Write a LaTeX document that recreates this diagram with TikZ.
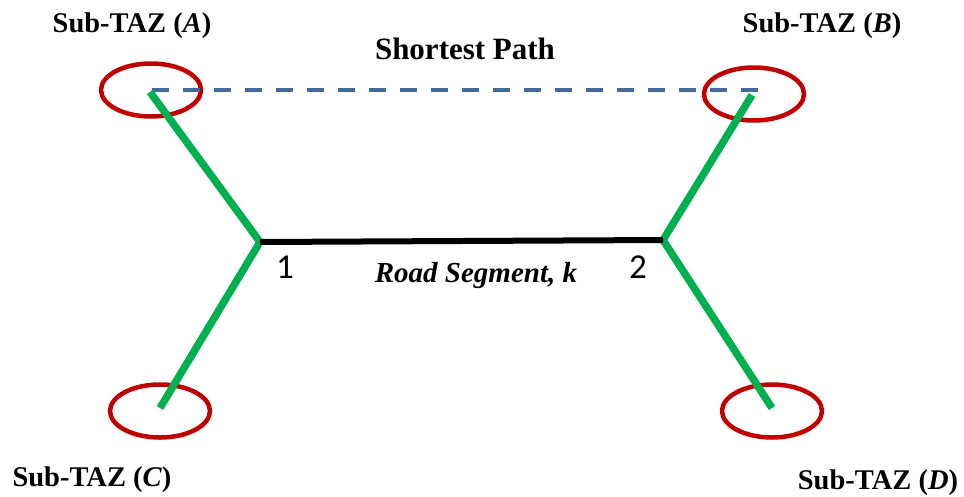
\documentclass[tikz,border=0pt]{standalone}
\usepackage{fontspec}
\setmainfont{Liberation Serif}
\newfontfamily\digitfont{Carlito}
\usetikzlibrary{shapes.geometric}
\definecolor{zonered}{RGB}{192,0,0}
\definecolor{linkgreen}{RGB}{0,176,80}
\definecolor{pathblue}{RGB}{68,106,156}
\tikzset{
  zone/.style={draw=zonered, line width=4.5pt, ellipse, inner sep=0pt, minimum width=100pt, minimum height=53pt},
  link/.style={draw=linkgreen, line width=7.5pt},
  road/.style={draw=black, line width=6pt},
  shortest/.style={draw=pathblue, line width=3.5pt, dash pattern=on 17pt off 14pt},
  lbl/.style={font=\fontsize{28.5}{30}\selectfont\bfseries, anchor=base, inner sep=0pt},
  num/.style={font=\fontsize{35}{36}\digitfont, inner sep=0pt}
}
\begin{document}
\begin{tikzpicture}[x=1pt,y=-1pt]
\useasboundingbox (0,0) rectangle (964,496);
% zones
\node[zone] (A) at (151,90) {};
\node[zone] (B) at (754,94) {};
\node[zone] (C) at (160,411) {};
\node[zone] (D) at (772,411) {};
% junctions and end points
\coordinate (n1) at (260,242);
\coordinate (n2) at (663,240);
\coordinate (a) at (150,92);
\coordinate (b) at (752,95);
\coordinate (c) at (160,408);
\coordinate (d) at (772,408);
\coordinate (ds) at (152,90);
\coordinate (de) at (767,90);
% shortest path
\draw[shortest] (ds) -- (de);
% links
\draw[link] (a) -- (n1) -- (c);
\draw[link] (b) -- (n2) -- (d);
% road
\draw[road] (n1) -- (n2);
% labels
\node[lbl] (la) at (132,32) {Sub-TAZ (\textit{A})};
\node[lbl] (lb) at (822,32) {Sub-TAZ (\textit{B})};
\node[lbl] (lc) at (92,486) {Sub-TAZ (\textit{C})};
\node[lbl] (ld) at (878,489) {Sub-TAZ (\textit{D})};
\node[lbl, font=\fontsize{31}{32}\selectfont\bfseries] (sp) at (465,59) {Shortest Path};
\node[lbl, font=\fontsize{29}{30}\selectfont\bfseries\itshape] (rs) at (476,282) {Road Segment, k};
\node[num] (t1) at (285,267) {1};
\node[num] (t2) at (638,267) {2};
\end{tikzpicture}
\end{document}
